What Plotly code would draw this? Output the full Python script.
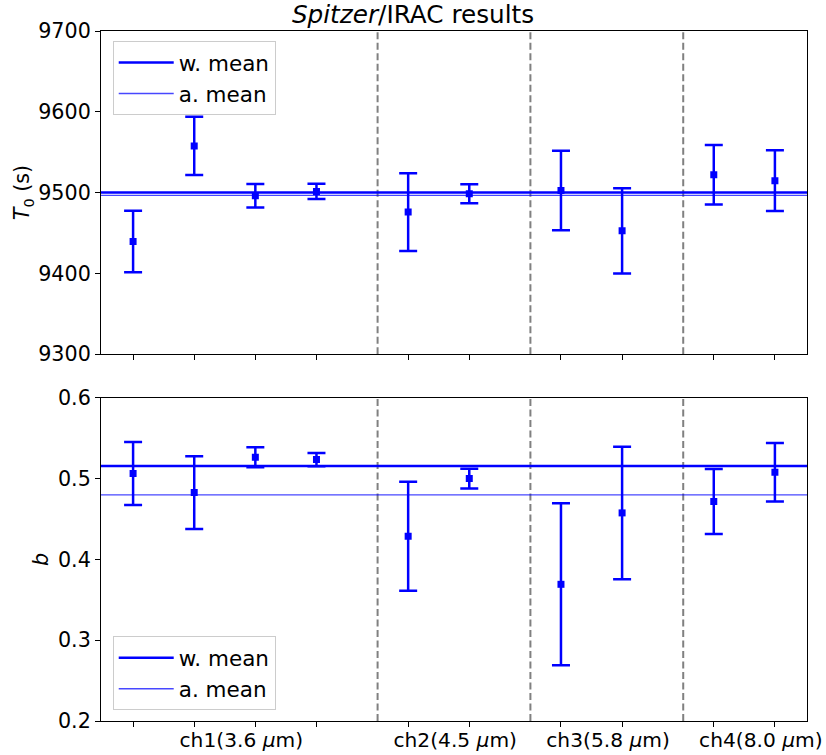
import plotly.graph_objects as go
from plotly.subplots import make_subplots

# ---- data ----
x_pos = [0, 1, 2, 3, 4.5, 5.5, 7, 8, 9.5, 10.5]
t0 = [9439.4, 9557.7, 9496.1, 9501.4, 9475.8, 9498.5, 9502.7, 9452.6, 9522.1, 9514.7]
t0_err = [38.0, 36.0, 14.6, 9.5, 48.0, 11.8, 49.2, 52.7, 36.9, 37.6]
b_val = [0.5063, 0.4828, 0.5265, 0.5236, 0.4287, 0.5001, 0.3692, 0.4576, 0.4716, 0.5079]
b_err = [0.0390, 0.0450, 0.0124, 0.0083, 0.0675, 0.0122, 0.1002, 0.0820, 0.0402, 0.0362]
t0_wmean, t0_amean = 9500.2, 9496.5
b_wmean, b_amean = 0.5158, 0.4799
separators = [4, 6.5, 9]
channel_labels = ["ch1(3.6 <i>μ</i>m)", "ch2(4.5 <i>μ</i>m)", "ch3(5.8 <i>μ</i>m)", "ch4(8.0 <i>μ</i>m)"]
channel_members = [[0, 1, 2, 3], [4.5, 5.5], [7, 8], [9.5, 10.5]]
t0_ticks = [9300, 9400, 9500, 9600, 9700]
b_ticks = [0.2, 0.3, 0.4, 0.5, 0.6]

FONT = "DejaVu Sans"
FS = 20.7
BLUE = "#0000ff"

span = max(x_pos) - min(x_pos)
xr = [min(x_pos) - 0.05 * span, max(x_pos) + 0.05 * span]
label_shift = 0.27
label_pos = [sum(m) / len(m) + label_shift for m in channel_members]

fig = make_subplots(rows=2, cols=1, shared_xaxes=False, vertical_spacing=0.0634)

fig.add_trace(go.Scatter(
    x=x_pos, y=t0, mode="markers", showlegend=False,
    marker=dict(symbol="square", size=7, color=BLUE),
    error_y=dict(type="data", array=t0_err, color=BLUE, thickness=2.5, width=9),
), row=1, col=1)
fig.add_trace(go.Scatter(
    x=x_pos, y=b_val, mode="markers", showlegend=False,
    marker=dict(symbol="square", size=7, color=BLUE),
    error_y=dict(type="data", array=b_err, color=BLUE, thickness=2.5, width=9),
), row=2, col=1)

# mean lines (with legend entries)
for yref, xref, wm, am, lg in [("y", "x", t0_wmean, t0_amean, "legend"),
                               ("y2", "x2", b_wmean, b_amean, "legend2")]:
    fig.add_shape(type="line", xref=xref + " domain", yref=yref, x0=0, x1=1, y0=wm, y1=wm,
                  line=dict(color=BLUE, width=2.5), showlegend=True, name="w. mean", legend=lg,
                  layer="above")
    fig.add_shape(type="line", xref=xref + " domain", yref=yref, x0=0, x1=1, y0=am, y1=am,
                  line=dict(color="rgba(0,0,255,0.72)", width=1.4), showlegend=True, name="a. mean",
                  legend=lg, layer="above")
    for s in separators:
        fig.add_shape(type="line", xref=xref, yref=yref + " domain", x0=s, x1=s, y0=0, y1=1,
                      line=dict(color="#808080", width=2, dash="7px,3.5px"), layer="below")

axis_common = dict(showline=True, linecolor="black", linewidth=1.1, mirror=True,
                   ticks="outside", ticklen=5, tickwidth=1.1, tickcolor="black",
                   showgrid=False, zeroline=False, automargin=False,
                   tickfont=dict(family=FONT, size=FS, color="black"))

fig.update_xaxes(range=xr, tickvals=x_pos, showticklabels=False, **axis_common)
fig.update_yaxes(**axis_common)
fig.update_yaxes(range=[t0_ticks[0], t0_ticks[-1]], tickvals=t0_ticks,
                 title=dict(text="<i>T</i><sub>0</sub> (s)", font=dict(family=FONT, size=FS), standoff=2),
                 row=1, col=1)
fig.update_yaxes(range=[b_ticks[0], b_ticks[-1]], tickvals=b_ticks, tickformat=".1f",
                 title=dict(text="<i>b</i>", font=dict(family=FONT, size=FS), standoff=3),
                 row=2, col=1)

# label axis for channel names
fig.update_layout(xaxis3=dict(overlaying="x2", anchor="y2", range=xr, tickvals=label_pos,
                              ticktext=channel_labels, ticks="outside", ticklen=1,
                              tickcolor="rgba(0,0,0,0)", showline=False, showgrid=False,
                              zeroline=False, side="bottom", automargin=False,
                              ticklabeloverflow="allow",
                              tickfont=dict(family=FONT, size=20.2, color="black")))
fig.add_trace(go.Scatter(x=[label_pos[0]], y=[b_ticks[0]], xaxis="x3", yaxis="y2",
                         mode="markers", marker=dict(opacity=0), showlegend=False,
                         hoverinfo="skip"))

legend_common = dict(bgcolor="white", bordercolor="#cccccc", borderwidth=1,
                     font=dict(family=FONT, size=21.5, color="black"),
                     xanchor="left", x=0.0166, itemwidth=55)
fig.update_layout(
    width=826, height=755,
    margin=dict(l=101, r=19, t=31, b=34, autoexpand=False),
    paper_bgcolor="white", plot_bgcolor="white",
    font=dict(family=FONT, size=FS, color="black"),
    title=dict(text="<i>Spitzer</i>/IRAC results", x=0.5, xanchor="center", xref="container",
               y=1 - 14 / 755, yanchor="middle", yref="container", automargin=False,
               font=dict(family=FONT, size=24.7, color="black")),
    legend=dict(yanchor="top", y=0.9855, **legend_common),
    legend2=dict(yanchor="bottom", y=0.0155, **legend_common),
)

fig.write_html("out.html")
